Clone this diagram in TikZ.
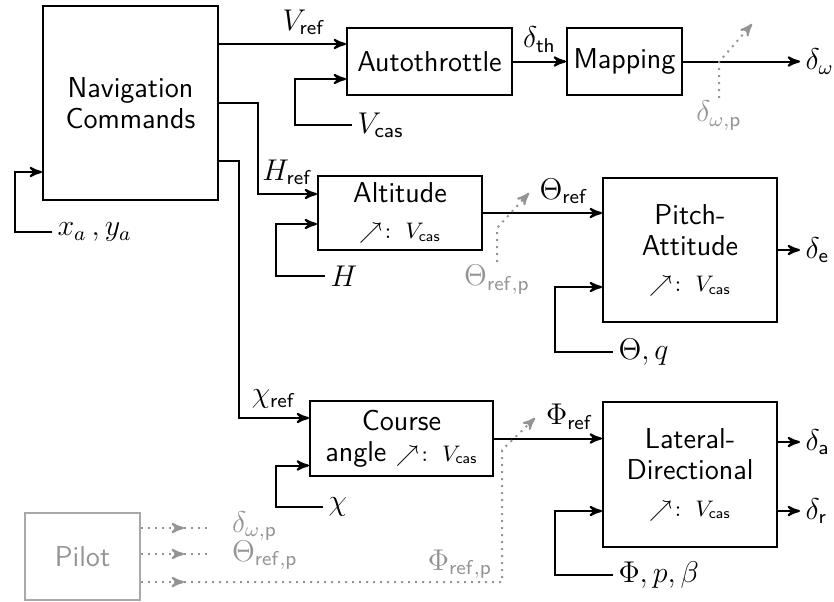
\documentclass[tikz,border=0pt]{standalone}
\usepackage{amsmath,amssymb,amsfonts}
\usepackage{xcolor}
\usepackage{tikz}
\usetikzlibrary{shapes,arrows,positioning,calc}

\colorlet{pilotgray}{black!42}
\newcommand{\schedvcas}{{\fontsize{9}{10}\selectfont$\nearrow\colon\; V_{\mathsf{cas}}$}}

\begin{document}
\begin{tikzpicture}[
    x=0.4pt, y=-0.4pt,
    font=\sffamily\fontsize{11.5}{12.5}\selectfont,
    block/.style={rectangle, draw, thick, align=center, inner sep=2pt},
    sig/.style={inner sep=2pt},
    pilotsig/.style={inner sep=1pt, text=pilotgray},
    arrow/.style={->, >=stealth', thick},
    parrow/.style={->, >=stealth', thick, dotted, pilotgray},
    pline/.style={thick, dotted, pilotgray}
]
\useasboundingbox (0,0) rectangle (834,601);

% blocks
\node[block, minimum width=70pt, minimum height=77.6pt] (nav) at (130.5,103) {Navigation\\Commands};
\node[block, minimum width=66pt, minimum height=26.8pt] (auto) at (429.5,61.5) {Autothrottle};
\node[block, minimum width=46pt, minimum height=26.8pt, right=21.2pt of auto] (map) {Mapping};
\node[block, minimum width=65.6pt, minimum height=29.6pt] (alt) at (400,213) {Altitude\\[2pt]\schedvcas};
\node[block, minimum width=69.6pt, minimum height=57.6pt] (pitch) at (690,250) {Pitch-\\Attitude\\[2pt]\schedvcas};
\node[block, minimum width=73.2pt, minimum height=30pt] (course) at (401.5,438.5) {Course\\angle \schedvcas};
\node[block, minimum width=69.6pt, minimum height=58pt, below=31.2pt of pitch] (lat) {Lateral-\\Directional\\[2pt]\schedvcas};
\node[block, draw=pilotgray!80, text=pilotgray, minimum width=46pt, minimum height=34.8pt] (pilot) at (82.5,556.5) {Pilot};

% input points
\coordinate (nav-in) at ([yshift=-27.6pt]nav.west);
\coordinate (auto-in1) at ([yshift=7pt]auto.west);
\coordinate (auto-in2) at ([yshift=-7pt]auto.west);
\coordinate (alt-in1) at ([yshift=7.6pt]alt.west);
\coordinate (alt-in2) at ([yshift=-4.4pt]alt.west);
\coordinate (pitch-in2) at ([yshift=-14.8pt]pitch.west);
\coordinate (course-in1) at ([yshift=8.2pt]course.west);
\coordinate (course-in2) at ([yshift=-10.8pt]course.west);
\coordinate (lat-in2) at ([yshift=-14.6pt]lat.west);
\coordinate (lat-out1) at ([yshift=13pt]lat.east);
\coordinate (lat-out2) at ([yshift=-14.6pt]lat.east);

% measured signals
\node[sig, anchor=west] (xy) at (52,232) {$x_a\,, y_a$};
\node[sig, anchor=west] (vcas) at (352,125) {$V_{\mathsf{cas}}$};
\node[sig, anchor=west] (hmeas) at (325,276) {$H$};
\node[sig, anchor=west] (chimeas) at (323,507) {$\chi$};
\node[sig, anchor=west] (thq) at (613,352) {$\Theta, q$};
\node[sig, anchor=west] (phipb) at (613,575) {$\Phi, p, \beta$};

% outputs
\node[sig, right=46.8pt of map] (dw) {$\delta_\omega$};
\node[sig, right=8.8pt of pitch] (de) {$\delta_{\mathsf{e}}$};
\node[sig, anchor=west] (da) at ($(lat-out1)+(22,0)$) {$\delta_{\mathsf{a}}$};
\node[sig, anchor=west] (dr) at ($(lat-out2)+(22,0)$) {$\delta_{\mathsf{r}}$};

\draw[arrow] (xy.west) -- ++(-37,0) |- (nav-in);
\draw[arrow] (nav.east |- auto-in1) -- node[above, pos=0.67] {$V_{\mathsf{ref}}$} (auto-in1);
\draw[arrow] (vcas.west) -- ++(-57,0) |- (auto-in2);
\draw[arrow] (auto) -- node[above] {$\delta_{\mathsf{th}}$} (map);
\draw[arrow] (map) -- (dw);

\draw[arrow] (nav.east) -- ++(39,0) |- node[above, pos=0.75] {$H_{\mathsf{ref}}$} (alt-in1);
\draw[arrow] (hmeas.west) -- ++(-49,0) |- (alt-in2);
\draw[arrow] (alt) -- node[above, pos=0.68] {$\Theta_{\mathsf{ref}}$} (alt -| pitch.west);
\draw[arrow] (thq.west) -- ++(-58,0) |- (pitch-in2);
\draw[arrow] (pitch) -- (de);

\draw[arrow] ([yshift=-23.2pt]nav.east) -- ++(20,0) |- node[above, pos=0.75] {$\chi_{\mathsf{ref}}$} (course-in1);
\draw[arrow] (chimeas.west) -- ++(-47,0) |- (course-in2);
\draw[arrow] (course) -- node[above, pos=0.7] {$\Phi_{\mathsf{ref}}$} (course -| lat.west);
\draw[arrow] (phipb.west) -- ++(-58,0) |- (lat-in2);
\draw[arrow] (lat-out1) -- (da);
\draw[arrow] (lat-out2) -- (dr);

% pilot inputs
\node[pilotsig, anchor=north] (dwp) at (719,98) {$\delta_{\omega,\mathsf{p}}$};
\node[pilotsig, anchor=north] (thp) at (497,262) {$\Theta_{\mathsf{ref,p}}$};
\node[pilotsig] (php) at (460,564) {$\Phi_{\mathsf{ref,p}}$};
\draw[parrow] (dwp.north) -- ++(0,-36) -- ++(33,-38);
\draw[parrow] (thp.north) -- ++(0,-34) -- ++(32,-35);

\coordinate (p1) at ([yshift=11.4pt]pilot.east);
\coordinate (p2) at ([yshift=1pt]pilot.east);
\coordinate (p3) at ([yshift=-10.2pt]pilot.east);
\node[pilotsig, anchor=west] (dwp2) at ($(p1)+(88,-2)$) {$\delta_{\omega,\mathsf{p}}$};
\node[pilotsig, anchor=west] (thp2) at ($(p2)+(88,1)$) {$\Theta_{\mathsf{ref,p}}$};
\draw[parrow] (p1) -- ++(43,0);
\draw[pline] ($(p1)+(43,0)$) -- ++(25,0);
\draw[parrow] (p2) -- ++(43,0);
\draw[pline] ($(p2)+(43,0)$) -- ++(25,0);
\draw[parrow] (p3) -- ++(43,0);
\draw[parrow] ($(p3)+(43,0)$) -| (502,450) -- ++(33,-32);

\end{tikzpicture}
\end{document}
